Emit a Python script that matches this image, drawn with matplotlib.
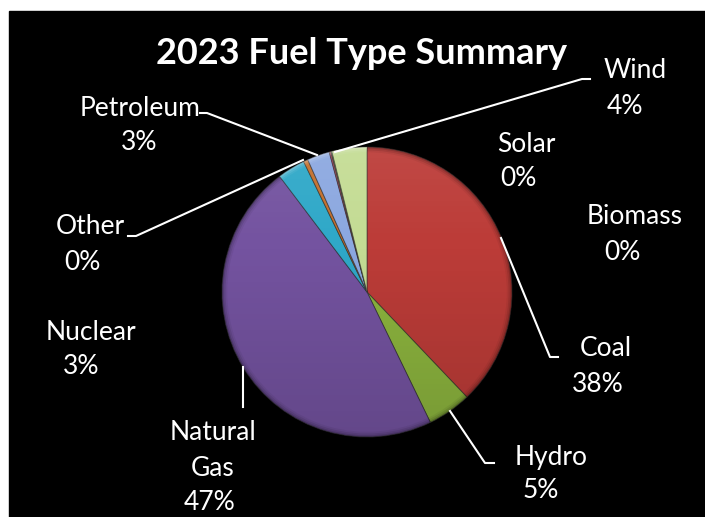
import numpy as np
import matplotlib
matplotlib.use("Agg")
import matplotlib.pyplot as plt
from matplotlib.patches import Circle, Rectangle, Wedge

plt.rcParams['font.family'] = ['Lato', 'DejaVu Sans']

# values (percent, clockwise from 12 o'clock)
fuels = ["Coal", "Hydro", "Natural Gas", "Nuclear", "Other", "Petroleum", "Biomass", "Solar", "Wind"]
shares = [37.9, 4.9, 46.9, 3.1, 0.5, 2.5, 0.2, 0.1, 3.9]
colors = ["#bc3c38", "#8cb43e", "#7453a0", "#2fa8c8", "#c4702c", "#8ca8e0", "#a0405a", "#80a040", "#c4dc94"]

# every label line sits on its own, the percent lines are a bit left of the names
label_lines = ["Coal", "38%", "Hydro", "5%", "Natural", "Gas", "47%", "Nuclear", "3%", "Other", "0%",
               "Petroleum", "3%", "Biomass", "0%", "Solar", "0%", "Wind", "4%"]
label_x = [606, 598, 551, 541, 213, 213, 210, 91, 81, 90, 82, 140, 139, 635, 622, 526, 518, 635, 625]
label_y = [349, 385, 457, 491, 433, 468, 503, 333, 367, 227, 262, 108, 142, 216, 253, 144, 178, 71, 107]

W, H = 705, 517
fig = plt.figure(figsize=(W / 100, H / 100), dpi=100, facecolor="white")
bg = fig.add_axes([0, 0, 1, 1])
bg.set_xlim(0, W)
bg.set_ylim(H, 0)
bg.axis("off")
bg.add_patch(Rectangle((9, 11), W - 9, H - 11, color="black", zorder=0))

# pie centre 367,292 radius 145 in pixels
cx, cy, r = 367, 292, 145
ax = fig.add_axes([(cx - r) / W, 1 - (cy + r) / H, 2 * r / W, 2 * r / H])
wedges, _ = ax.pie(shares, colors=colors, startangle=90, counterclock=False, radius=1,
                   wedgeprops=dict(linewidth=0.7, edgecolor="#30303090"))

# top to bottom shading, lighter up top and darker below
ramp = np.linspace(0.07, -0.14, 200)
shade = np.zeros((200, 1, 4))
shade[ramp > 0, 0, :3] = 1.0
shade[:, 0, 3] = np.abs(ramp)
im = ax.imshow(shade, extent=(-1, 1, -1, 1), aspect="auto", zorder=3)
im.set_clip_path(Circle((0, 0), 1, transform=ax.transData))
ax.set_xlim(-1, 1)
ax.set_ylim(-1, 1)

# bevel on the rim, lighter on top slices, darker elsewhere
for w in wedges:
    mid = np.deg2rad((w.theta1 + w.theta2) / 2)
    rim = "#ffffff" if np.sin(mid) > 0.6 else "#000000"
    for width, alpha in [(0.012, 0.14), (0.024, 0.09), (0.036, 0.05)]:
        ax.add_patch(Wedge((0, 0), 1, w.theta1, w.theta2, width=width, facecolor=rim,
                           alpha=alpha, edgecolor="none", zorder=4))

for txt, x, y in zip(label_lines, label_x, label_y):
    bg.text(x, y, txt, color="white", fontsize=19, ha="center", va="center")

bg.text(362, 54, "2023 Fuel Type Summary", color="white", fontsize=26, fontweight="bold",
        ha="center", va="center")

# leader lines
leaders = [
    ([501, 550, 558], [238, 357, 357]),
    ([450, 485, 494], [411, 463, 463]),
    ([243, 243], [367, 407]),
    ([128, 136, 303], [236, 236, 160]),
    ([200, 207, 317], [113, 113, 155]),
    ([335, 582, 590], [152, 79, 79]),
]
for xs, ys in leaders:
    fig.add_artist(plt.Line2D(xs, ys, color="white", lw=1.5, transform=bg.transData, zorder=5))

fig.savefig("out.png", dpi=100, facecolor="white")
